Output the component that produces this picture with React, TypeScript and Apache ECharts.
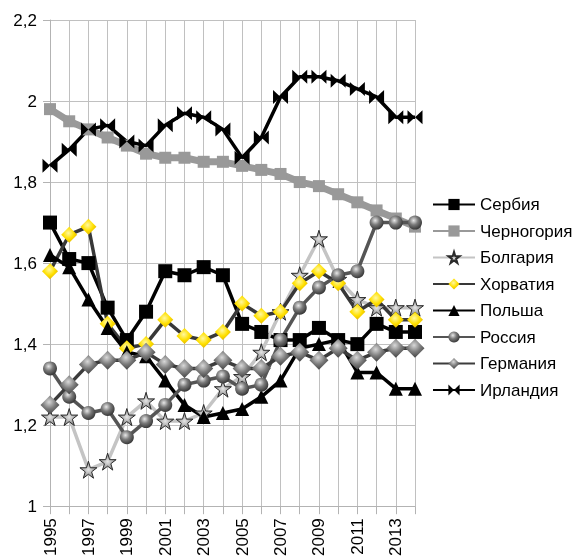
import React, { useEffect, useRef } from "react";
import * as echarts from "echarts";

const years = ["1995","1996","1997","1998","1999","2000","2001","2002","2003","2004","2005","2006","2007","2008","2009","2010","2011","2012","2013","2014"];
const serbia = [1.70,1.61,1.60,1.49,1.41,1.48,1.58,1.57,1.59,1.57,1.45,1.43,1.41,1.41,1.44,1.41,1.40,1.45,1.43,1.43];
const montenegro = [1.98,1.95,1.93,1.91,1.89,1.87,1.86,1.86,1.85,1.85,1.84,1.83,1.82,1.80,1.79,1.77,1.75,1.73,1.71,1.69];
const bulgaria = [1.22,1.22,1.09,1.11,1.22,1.26,1.21,1.21,1.23,1.29,1.32,1.38,1.48,1.57,1.66,1.56,1.51,1.49,1.49,1.49];
const croatia = [1.58,1.67,1.69,1.45,1.39,1.40,1.46,1.42,1.41,1.43,1.50,1.47,1.48,1.55,1.58,1.55,1.48,1.51,1.46,1.46];
const poland = [1.62,1.59,1.51,1.44,1.38,1.37,1.31,1.25,1.22,1.23,1.24,1.27,1.31,1.39,1.40,1.41,1.33,1.33,1.29,1.29];
const russia = [1.34,1.27,1.23,1.24,1.17,1.21,1.25,1.30,1.31,1.32,1.29,1.30,1.41,1.49,1.54,1.57,1.58,1.70,1.70,1.70];
const germany = [1.25,1.30,1.35,1.36,1.36,1.38,1.35,1.34,1.34,1.36,1.34,1.34,1.37,1.38,1.36,1.39,1.36,1.38,1.39,1.39];
const ireland = [1.84,1.88,1.93,1.94,1.90,1.89,1.94,1.97,1.96,1.93,1.86,1.91,2.01,2.06,2.06,2.05,2.03,2.01,1.96,1.96];

const FONT = "Liberation Sans, Arial, sans-serif";
const starPath = "path://M50,0 L61,35 L98,35 L68,57 L79,91 L50,70 L21,91 L32,57 L2,35 L39,35 Z";
const bowtiePath = "path://M0,0 L50,50 L0,100 Z M100,0 L50,50 L100,100 Z";

const sphere = {
  type: "radial", x: 0.4, y: 0.35, r: 0.7,
  colorStops: [
    { offset: 0, color: "#e8e8e8" },
    { offset: 0.45, color: "#7a7a7a" },
    { offset: 1, color: "#2e2e2e" },
  ],
};
const greyDiamond = {
  type: "radial", x: 0.45, y: 0.35, r: 0.7,
  colorStops: [
    { offset: 0, color: "#d8d8d8" },
    { offset: 0.5, color: "#7c7c7c" },
    { offset: 1, color: "#3a3a3a" },
  ],
};
const yellowDiamond = {
  type: "radial", x: 0.45, y: 0.4, r: 0.7,
  colorStops: [
    { offset: 0, color: "#fff8a0" },
    { offset: 0.5, color: "#ffe000" },
    { offset: 1, color: "#d9a800" },
  ],
};
const greyStar = {
  type: "radial", x: 0.5, y: 0.5, r: 0.6,
  colorStops: [
    { offset: 0, color: "#e6e6e6" },
    { offset: 1, color: "#707070" },
  ],
};

export default function App() {
  const ref = useRef<HTMLDivElement>(null);
  useEffect(() => {
    if (!ref.current) return;
    const chart = echarts.init(ref.current, null, { renderer: "svg" });
    const mk = (name: string, data: number[], lineColor: string, lineWidth: number, symbol: string, symbolSize: any, fill: any, border?: string) => ({
      name, type: "line", data, symbol, symbolSize, showSymbol: true, showAllSymbol: true,
      lineStyle: { color: lineColor, width: lineWidth },
      itemStyle: { color: fill, borderColor: border || fill, borderWidth: border ? 1 : 0 },
      emphasis: { disabled: true },
    });
    chart.setOption({
      animation: false,
      textStyle: { fontFamily: FONT },
      grid: { left: 50, right: 163, top: 20, bottom: 51, containLabel: false },
      legend: {
        orient: "vertical",
        left: 427,
        top: 191,
        itemWidth: 42,
        itemHeight: 14,
        itemGap: 9.5,
        textStyle: { fontSize: 17, color: "#000", fontFamily: FONT },
        data: ["Сербия","Черногория","Болгария","Хорватия","Польша","Россия","Германия","Ирландия"],
      },
      xAxis: {
        type: "category",
        data: years,
        boundaryGap: false,
        axisLine: { lineStyle: { color: "#b3b3b3", width: 1 } },
        axisTick: { show: true, interval: 0, length: 8, lineStyle: { color: "#b3b3b3" } },
        axisLabel: { interval: 1, rotate: 90, fontSize: 17, color: "#000", margin: 12, fontFamily: FONT },
        splitLine: { show: true, interval: 0, lineStyle: { color: "#c0c0c0", width: 1 } },
      },
      yAxis: {
        type: "value",
        min: 1,
        max: 2.2,
        interval: 0.2,
        axisLine: { show: true, lineStyle: { color: "#b3b3b3", width: 1 } },
        axisTick: { show: true, length: 7, lineStyle: { color: "#b3b3b3" } },
        axisLabel: {
          fontSize: 17, color: "#000", margin: 13, fontFamily: FONT,
          formatter: (v: number) => String(Math.round(v * 10) / 10).replace(".", ","),
        },
        splitLine: { show: true, lineStyle: { color: "#c0c0c0", width: 1 } },
      },
      series: [
        mk("Сербия", serbia, "#000", 3.5, "rect", 14, "#000"),
        mk("Черногория", montenegro, "#999999", 7, "rect", 12, "#999999"),
        mk("Болгария", bulgaria, "#c4c4c4", 3.5, starPath, 17, greyStar, "#2a2a2a"),
        mk("Хорватия", croatia, "#383838", 3.5, "diamond", 16, yellowDiamond),
        mk("Польша", poland, "#000", 3.5, "triangle", 14, "#000"),
        mk("Россия", russia, "#555555", 3.5, "circle", 14, sphere),
        mk("Германия", germany, "#3c3c3c", 3.5, "diamond", 19, greyDiamond),
        mk("Ирландия", ireland, "#000", 3.5, bowtiePath, [15, 14], "#000"),
      ],
    });
    return () => chart.dispose();
  }, []);
  return <div ref={ref} style={{ position: "fixed", left: 0, top: 0, width: 578, height: 559 }} />;
}
